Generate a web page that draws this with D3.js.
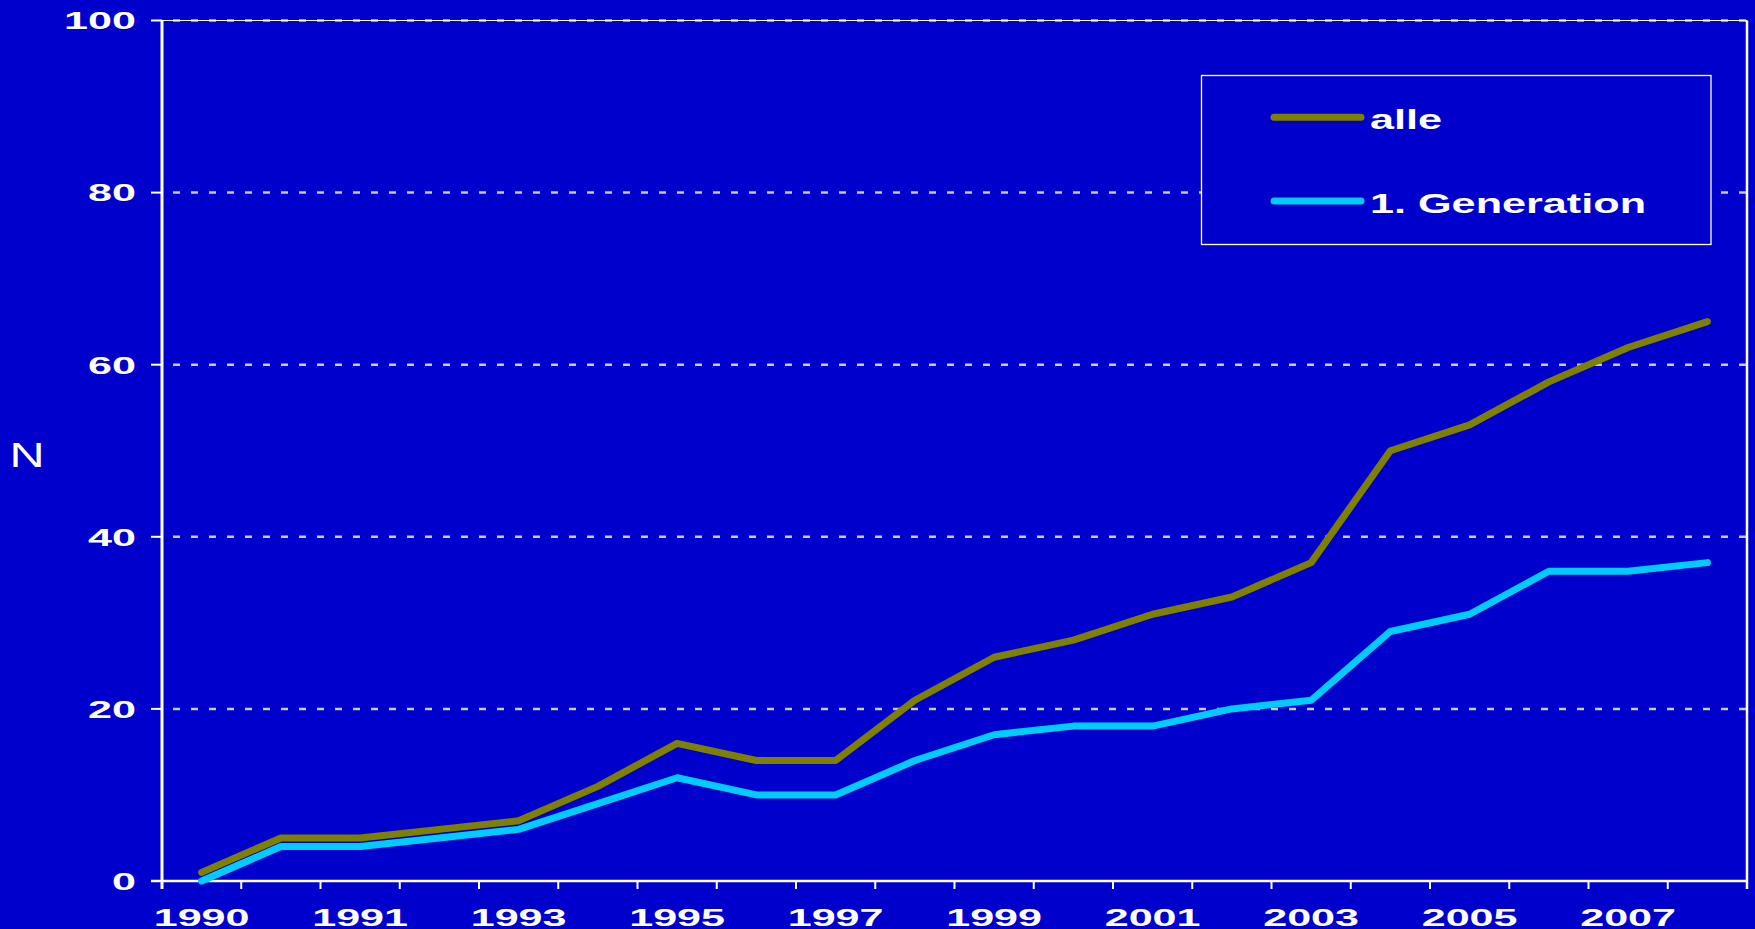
<!DOCTYPE html>
<html>
<head>
<meta charset="utf-8">
<script src="https://cdn.jsdelivr.net/npm/d3@7"></script>
<style>
  html, body { margin: 0; padding: 0; background: #0000CC; }
  svg { display: block; }
</style>
</head>
<body>
<script>
// ---- data ----
const categories = ["1990", "1990", "1991", "1992", "1993", "1994", "1995", "1996", "1997", "1998",
                    "1999", "2000", "2001", "2002", "2003", "2004", "2005", "2006", "2007", "2008"];
const alle       = [1, 5, 5, 6, 7, 11, 16, 14, 14, 21, 26, 28, 31, 33, 37, 50, 53, 58, 62, 65];
const generation = [0, 4, 4, 5, 6, 9, 12, 10, 10, 14, 17, 18, 18, 20, 21, 29, 31, 36, 36, 37];
const yTicks = [0, 20, 40, 60, 80, 100];
const seriesNames = ["alle", "1. Generation"];
const seriesColors = ["#808000", "#00CCFF"];
const yTitle = "N";

// ---- layout ----
const W = 1755, H = 929;
const L = 162, R = 1747, T = 20.5, B = 881;
const bg = "#0000CC";

const svg = d3.select("body").append("svg").attr("width", W).attr("height", H);
svg.append("rect").attr("width", W).attr("height", H).attr("fill", bg);

const idx = d3.range(categories.length);
const x = d3.scaleBand().domain(idx).range([L, R]).paddingInner(0).paddingOuter(0);
const y = d3.scaleLinear().domain([0, 100]).range([B, T]);
const cx = i => x(i) + x.bandwidth() / 2;

// gridlines
svg.append("g").selectAll("line").data(yTicks.filter(v => v > 0)).join("line")
  .attr("x1", L).attr("x2", R)
  .attr("y1", d => y(d)).attr("y2", d => y(d))
  .attr("stroke", "#C8C8C8").attr("stroke-width", 2.5)
  .attr("stroke-dasharray", "7 11").attr("stroke-dashoffset", -11);

// plot border top & right
svg.append("line").attr("x1", L).attr("x2", R).attr("y1", y(100)).attr("y2", y(100))
  .attr("stroke", "#FFFFFF").attr("stroke-width", 1.2);
svg.append("line").attr("x1", R).attr("x2", R).attr("y1", y(100)).attr("y2", B + 8)
  .attr("stroke", "#FFFFFF").attr("stroke-width", 2.5);

// axes lines
svg.append("line").attr("x1", L).attr("x2", L).attr("y1", y(100)).attr("y2", B + 8)
  .attr("stroke", "#FFFFFF").attr("stroke-width", 3);
svg.append("line").attr("x1", L - 11).attr("x2", R).attr("y1", B).attr("y2", B)
  .attr("stroke", "#FFFFFF").attr("stroke-width", 2.5);

// y ticks
svg.append("g").selectAll("line").data(yTicks).join("line")
  .attr("x1", L - 11).attr("x2", L)
  .attr("y1", d => y(d)).attr("y2", d => y(d))
  .attr("stroke", "#FFFFFF").attr("stroke-width", 2);

// y labels
const axisFont = "'Liberation Sans', Arial, sans-serif";
svg.append("g").selectAll("text").data(yTicks).join("text")
  .attr("transform", d => `translate(136,${y(d) + 8.8}) scale(1.76,1)`)
  .attr("text-anchor", "end")
  .attr("font-family", axisFont).attr("font-weight", "bold").attr("font-size", 24.5)
  .attr("fill", "#FFFFFF")
  .text(d => d);

// x ticks at category boundaries
const bounds = idx.map(i => x(i)).concat([R]);
svg.append("g").selectAll("line").data(bounds).join("line")
  .attr("x1", d => d).attr("x2", d => d)
  .attr("y1", B).attr("y2", B + 8)
  .attr("stroke", "#FFFFFF").attr("stroke-width", 2);

// x labels (every other category)
svg.append("g").selectAll("text").data(idx.filter(i => i % 2 === 0)).join("text")
  .attr("transform", i => `translate(${cx(i)},926) scale(1.76,1)`)
  .attr("text-anchor", "middle")
  .attr("font-family", axisFont).attr("font-weight", "bold").attr("font-size", 24.5)
  .attr("fill", "#FFFFFF")
  .text(i => categories[i]);

// y title
svg.append("text")
  .attr("transform", "translate(9.6,466.7) scale(1.35,1)")
  .attr("font-family", axisFont).attr("font-size", 36)
  .attr("fill", "#FFFFFF").text(yTitle);

// lines
const line = d3.line().x((d, i) => cx(i)).y(d => y(d));
[alle, generation].forEach((s, k) => {
  svg.append("path").datum(s)
    .attr("d", line)
    .attr("fill", "none")
    .attr("stroke", seriesColors[k])
    .attr("stroke-width", 7)
    .attr("stroke-linejoin", "round")
    .attr("stroke-linecap", "round");
});

// legend
const lg = svg.append("g");
lg.append("rect").attr("x", 1201.5).attr("y", 75.5).attr("width", 509.5).attr("height", 169)
  .attr("fill", bg).attr("stroke", "#FFFFFF").attr("stroke-width", 1.3);
const legY = [117.3, 201];
const legBase = [129.3, 213.3];
seriesNames.forEach((name, k) => {
  lg.append("line").attr("x1", 1274).attr("x2", 1361)
    .attr("y1", legY[k]).attr("y2", legY[k])
    .attr("stroke", seriesColors[k]).attr("stroke-width", 7).attr("stroke-linecap", "round");
  lg.append("text")
    .attr("transform", `translate(1370,${legBase[k]}) scale(1.6,1)`)
    .attr("font-family", axisFont).attr("font-weight", "bold").attr("font-size", 27)
    .attr("fill", "#FFFFFF").text(name);
});
</script>
</body>
</html>
